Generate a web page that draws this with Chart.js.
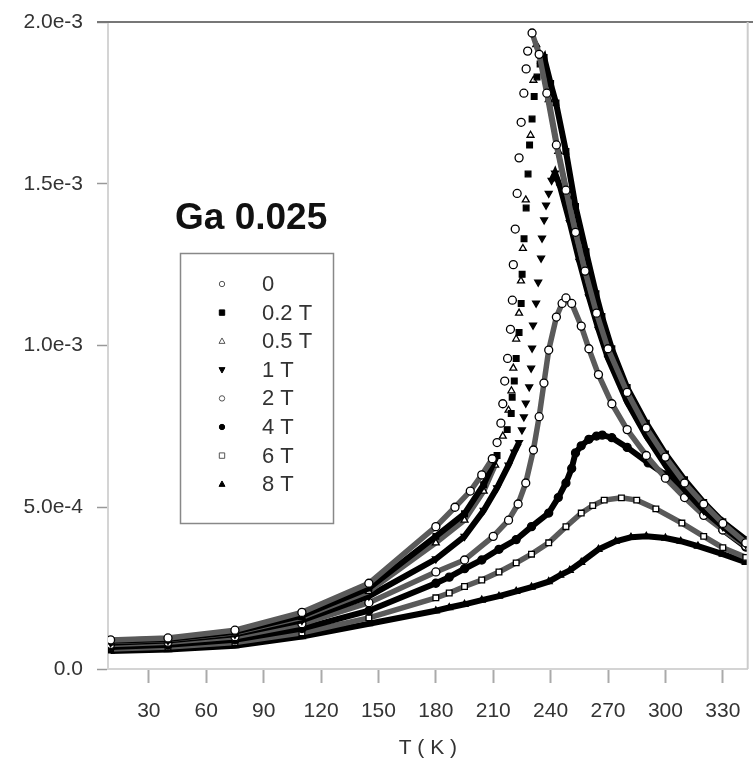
<!DOCTYPE html>
<html>
<head>
<meta charset="utf-8">
<script src="https://cdn.jsdelivr.net/npm/chart.js@4/dist/chart.umd.min.js"></script>
<style>
  html, body { margin: 0; padding: 0; background: #fff; }
  #wrap { width: 753px; height: 772px; }
</style>
</head>
<body>
<div id="wrap"><canvas id="chiChart" width="753" height="772"></canvas></div>
<script>
// temperature (K) and susceptibility (units of 1e-3)
const tZero = [10,40,75,110,145,180,190,198,204,209.5,212,214,215,216,217.5,219,220,220.5,221.5,222.5,223.5,224.6,226,227.2,228,230.3,234,238,243,248,253,258,264,270,280,290,300,310,320,330,342];
const chiZero = [0.09,0.096,0.12,0.175,0.265,0.44,0.50,0.55,0.60,0.65,0.70,0.76,0.82,0.89,0.96,1.05,1.14,1.25,1.36,1.47,1.58,1.69,1.78,1.855,1.91,1.966,1.90,1.78,1.62,1.48,1.35,1.23,1.10,0.99,0.855,0.745,0.655,0.575,0.51,0.45,0.39];

const t02 = [10,40,75,110,145,180,195,205,212,217.3,219.4,219.9,221,222,223.5,224.6,225.1,226.1,227.2,228.2,229,230.3,231.4,232.9,234.5,236.6,240,242.8,248,253,258.5,263.7,266.8,272,280,290,300,310,320,330,342];
const chi02 = [0.087,0.093,0.115,0.165,0.25,0.41,0.48,0.57,0.66,0.74,0.79,0.84,0.89,0.96,1.04,1.13,1.22,1.33,1.425,1.53,1.62,1.70,1.77,1.83,1.87,1.89,1.81,1.75,1.60,1.43,1.29,1.16,1.09,0.99,0.87,0.76,0.665,0.585,0.515,0.455,0.40];

const t05 = [10,40,75,110,145,180,195,205,211,215,218,219.5,220.5,222,223.5,224.5,225.5,227,229.5,231,232.5,235,239,244,249,254,259,265,271,280,290,300,310,320,330,342];
const chi05 = [0.085,0.091,0.112,0.16,0.24,0.39,0.46,0.55,0.63,0.72,0.80,0.86,0.93,1.02,1.10,1.20,1.30,1.45,1.65,1.82,1.93,1.88,1.76,1.60,1.46,1.33,1.21,1.09,0.98,0.86,0.75,0.66,0.58,0.51,0.455,0.395];

const t1 = [10,40,75,110,145,180,195,205,212,218,221,223.5,225,226,227,228.8,229.8,230.3,230.8,232.4,233.5,235,235.5,236.6,237.6,239,240.5,242.3,245,250,255,260,265,270,280,290,300,310,320,330,342];
const chi1 = [0.081,0.088,0.107,0.15,0.225,0.34,0.41,0.49,0.56,0.63,0.67,0.70,0.739,0.779,0.822,0.872,0.93,0.992,1.063,1.131,1.196,1.27,1.332,1.388,1.434,1.47,1.51,1.533,1.49,1.38,1.26,1.15,1.05,0.96,0.825,0.72,0.63,0.555,0.49,0.44,0.385];

const t2 = [10,40,75,110,145,180,195,210,218,223,227,231,234,236.5,239,243,246,248,251,256,260,265,272,280,290,300,310,320,330,342];
const chi2 = [0.076,0.083,0.1,0.14,0.205,0.30,0.337,0.41,0.46,0.51,0.575,0.677,0.78,0.884,0.986,1.088,1.13,1.147,1.13,1.06,0.99,0.91,0.82,0.74,0.66,0.59,0.53,0.475,0.43,0.38];

const t4 = [10,40,75,110,145,180,187,195,204,213,222,230,239,244,248,251,253,256,260,264,267,272,280,291,300,308.6,320,330,342];
const chi4 = [0.068,0.075,0.09,0.125,0.18,0.265,0.284,0.31,0.337,0.37,0.40,0.44,0.482,0.53,0.575,0.62,0.668,0.69,0.71,0.72,0.723,0.715,0.685,0.637,0.60,0.563,0.49,0.43,0.377];

const t6 = [10,40,75,110,145,180,187,195,204,213,222,230,239,248,256,262,268,277,285,295,308.6,320,330,342];
const chi6 = [0.062,0.068,0.082,0.112,0.158,0.22,0.235,0.255,0.275,0.30,0.328,0.355,0.39,0.44,0.482,0.505,0.522,0.529,0.522,0.495,0.451,0.41,0.375,0.345];

const t8 = [10,40,75,110,145,180,187,195,204,213,222,230,239,245,250,256,265,274,282,290,300,308,317,330,342];
const chi8 = [0.056,0.06,0.072,0.1,0.14,0.18,0.19,0.20,0.213,0.225,0.24,0.253,0.27,0.29,0.305,0.33,0.37,0.395,0.407,0.41,0.405,0.395,0.38,0.355,0.33];

const fieldLabels = ["0", "0.2 T", "0.5 T", "1 T", "2 T", "4 T", "6 T", "8 T"];
const xTicks = [30, 60, 90, 120, 150, 180, 210, 240, 270, 300, 330];
const yTicks = [0, 0.0005, 0.001, 0.0015, 0.002];
const yTickLabels = ["0.0", "5.0e-4", "1.0e-3", "1.5e-3", "2.0e-3"];
const UNIT = 1e-3;

const FONT = "'Liberation Sans', Arial, Helvetica, sans-serif";

// marker per field: [pointStyle, rotation, filled]
const markers = [
    ["circle", 0, false],
    ["rect", 0, true],
    ["triangle", 0, false],
    ["triangle", 180, true],
    ["circle", 0, false],
    ["circle", 0, true],
    ["rect", 0, false],
    ["triangle", 0, true]
];
const hideSteep = [true, true, true, true, false, false, false, false];

const seriesT = [tZero, t02, t05, t1, t2, t4, t6, t8];
const seriesChi = [chiZero, chi02, chi05, chi1, chi2, chi4, chi6, chi8];

// the steep low-field rises show as separate markers, not as a band
function steepRise(ctx) {
    let dx = Math.abs(ctx.p1.x - ctx.p0.x);
    let dy = ctx.p0.y - ctx.p1.y;
    return dy > 2.5 * dx;
}

let datasets = fieldLabels.map((lab, i) => {
    let m = markers[i];
    let pts = seriesT[i].map((t, k) => ({ x: t, y: seriesChi[i][k] * UNIT }));
    return {
        label: lab,
        data: pts,
        showLine: true,
        borderColor: m[2] ? "#000" : "#5a5a5a",
        borderWidth: m[2] ? 6 : 5.5,
        pointStyle: m[0],
        rotation: m[1],
        pointRadius: 4,
        pointBorderWidth: 1.3,
        pointBorderColor: "#000",
        pointBackgroundColor: m[2] ? "#000" : "#fff",
        segment: {
            borderColor: ctx => (hideSteep[i] && steepRise(ctx)) ? "rgba(0,0,0,0)" : undefined
        }
    };
});

// little marker painter for the boxed legend
function drawMarker(ctx, style, rot, filled, x, y, r) {
    ctx.save();
    ctx.translate(x, y);
    ctx.rotate(rot * Math.PI / 180);
    ctx.beginPath();
    if (style === "circle") {
        ctx.arc(0, 0, r, 0, Math.PI * 2);
    } else if (style === "rect") {
        ctx.rect(-r, -r, 2 * r, 2 * r);
    } else {
        ctx.moveTo(0, -r * 1.2);
        ctx.lineTo(r * 1.1, r * 0.8);
        ctx.lineTo(-r * 1.1, r * 0.8);
        ctx.closePath();
    }
    ctx.fillStyle = filled ? "#000" : "#fff";
    ctx.fill();
    ctx.lineWidth = 1;
    ctx.strokeStyle = filled ? "#000" : "#555";
    ctx.stroke();
    ctx.restore();
}

const decor = {
    id: "decor",
    afterDraw(chart) {
        let ctx = chart.ctx;
        let a = chart.chartArea;
        ctx.save();
        // top frame line and right edge
        ctx.strokeStyle = "#777";
        ctx.lineWidth = 2;
        ctx.beginPath();
        ctx.moveTo(97, a.top);
        ctx.lineTo(753, a.top);
        ctx.stroke();
        ctx.strokeStyle = "#ccc";
        ctx.beginPath();
        ctx.moveTo(a.right, a.top);
        ctx.lineTo(a.right, a.bottom);
        ctx.stroke();

        // sample name
        ctx.fillStyle = "#111";
        ctx.font = "bold 37px " + FONT;
        ctx.textBaseline = "middle";
        ctx.fillText("Ga 0.025", 175, 219);

        // legend box
        ctx.strokeStyle = "#888";
        ctx.lineWidth = 1.5;
        ctx.strokeRect(180.5, 253.5, 153, 270);
        ctx.font = "22px " + FONT;
        chart.data.datasets.forEach((ds, i) => {
            let y = 284 + i * 28.6;
            let m = markers[i];
            drawMarker(ctx, m[0], m[1], m[2], 222, y, 2.7);
            ctx.fillStyle = "#333";
            ctx.fillText(ds.label, 262, y + 1);
        });
        ctx.restore();
    }
};

new Chart(document.getElementById("chiChart"), {
    type: "scatter",
    data: { datasets: datasets },
    options: {
        responsive: false,
        animation: false,
        layout: { padding: { top: 22, right: 3, left: 0, bottom: 0 } },
        plugins: {
            legend: { display: false },
            tooltip: { enabled: false }
        },
        scales: {
            x: {
                type: "linear",
                min: 8.65,
                max: 343,
                afterFit: s => { s.height = 103; s.paddingLeft = 0; s.paddingRight = 0; },
                afterBuildTicks: s => { s.ticks = xTicks.map(v => ({ value: v })); },
                grid: { drawOnChartArea: false, drawTicks: true, tickLength: 14, tickColor: "#aaa", tickWidth: 2 },
                border: { display: true, color: "#d4d4d4", width: 2 },
                ticks: { color: "#333", font: { family: FONT, size: 21 }, padding: 16, maxRotation: 0 },
                title: { display: true, text: "T ( K )", color: "#333", font: { family: FONT, size: 21 }, padding: { top: 0, bottom: 11 } }
            },
            y: {
                type: "linear",
                min: 0,
                max: 0.002,
                afterFit: s => { s.width = 108; s.paddingTop = 0; s.paddingBottom = 0; },
                afterBuildTicks: s => { s.ticks = yTicks.map(v => ({ value: v })); },
                grid: { drawOnChartArea: false, drawTicks: true, tickLength: 11, tickColor: "#999", tickWidth: 1.5 },
                border: { display: true, color: "#d4d4d4", width: 2 },
                ticks: {
                    color: "#333",
                    font: { family: FONT, size: 21 },
                    padding: 14,
                    callback: (v) => {
                        let k = yTicks.indexOf(v);
                        return k >= 0 ? yTickLabels[k] : "";
                    }
                }
            }
        }
    },
    plugins: [decor]
});
</script>
</body>
</html>
